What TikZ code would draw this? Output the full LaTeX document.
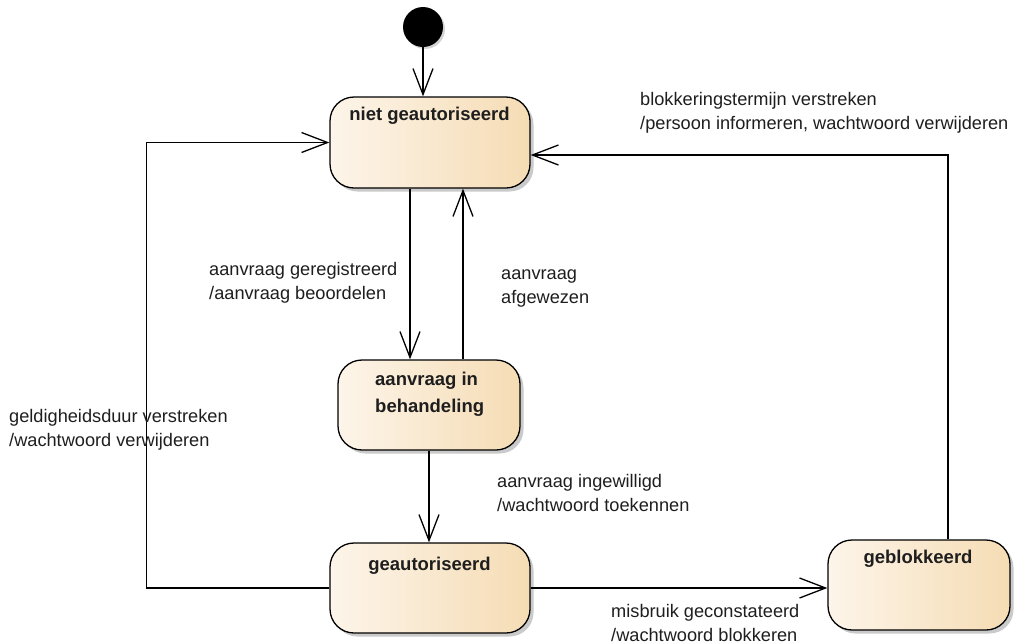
\documentclass[tikz,border=0pt]{standalone}
\usepackage{fontspec}
\setmainfont{Liberation Sans}
\usetikzlibrary{arrows.meta,shadows}
\definecolor{boxleft}{RGB}{253,245,234}
\definecolor{boxright}{RGB}{245,220,180}
\definecolor{txt}{RGB}{30,30,30}
\tikzset{
  state/.style={draw=black, line width=1.3pt, rounded corners=24pt,
    left color=boxleft, right color=boxright, inner sep=0pt,
    drop shadow={shadow xshift=3.5pt, shadow yshift=-3.5pt, opacity=0.35, fill=black!60}},
  title/.style={font=\bfseries\fontsize{18.5}{27}\selectfont, text=txt, inner sep=0pt},
  lbl/.style={font=\fontsize{18.2}{24}\selectfont, text=txt, inner sep=0pt, anchor=north west, align=left},
  arr/.style={line width=1.3pt, -{Straight Barb[length=26pt,width=20pt,line width=1.3pt]}},
}
\begin{document}
\begin{tikzpicture}[x=1pt,y=-1pt]
\useasboundingbox (0,0) rectangle (1027,643);
% initial state
\node[circle, fill=black, minimum size=40pt, inner sep=0pt,
  drop shadow={shadow xshift=2pt, shadow yshift=-2pt, opacity=0.35}] (init) at (423,27) {};
% states
\node[state, minimum width=200pt, minimum height=91pt] (n1) at (430,142.5) {};
\node[state, minimum width=182pt, minimum height=90pt] (n2) at (429,405) {};
\node[state, minimum width=200pt, minimum height=90pt] (n3) at (430,588) {};
\node[state, minimum width=182pt, minimum height=90pt] (n4) at (919,585) {};
% titles
\node[title, anchor=base] (t1) at (429.5,120) {niet geautoriseerd};
\node[title, anchor=north west, align=left] (t2) at (375,366.1) {\strut aanvraag in\\behandeling};
\node[title, anchor=base] (t3) at (429.5,570) {geautoriseerd};
\node[title, anchor=base] (t4) at (918,563) {geblokkeerd};
% transitions
\draw[arr] (init.south) -- (init.south |- n1.north);
\draw[arr] ([xshift=-20pt]n1.south) -- ([xshift=-20pt]n1.south |- n2.north);
\draw[arr] ([xshift=34pt]n2.north) -- ([xshift=34pt]n2.north |- n1.south);
\draw[arr] (n2.south) -- (n2.south |- n3.north);
\draw[arr] (n3.east) -- (n3.east -| n4.west);
\draw[arr] ([xshift=29pt]n4.north) |- ([yshift=-12.5pt]n1.east);
\draw[arr] (n3.west) -- ++(-183,0) |- (n1.west);
% labels
\node[lbl] (l1) at (640,88.2) {\strut blokkeringstermijn verstreken\\/persoon informeren, wachtwoord verwijderen};
\node[lbl] (l2) at (209,258.2) {\strut aanvraag geregistreerd\\/aanvraag beoordelen};
\node[lbl] (l3) at (501,262.2) {\strut aanvraag\\afgewezen};
\node[lbl] (l4) at (9,405.2) {\strut geldigheidsduur verstreken\\/wachtwoord verwijderen};
\node[lbl] (l5) at (497,470.2) {\strut aanvraag ingewilligd\\/wachtwoord toekennen};
\node[lbl] (l6) at (611,600.2) {\strut misbruik geconstateerd\\/wachtwoord blokkeren};
\end{tikzpicture}
\end{document}
